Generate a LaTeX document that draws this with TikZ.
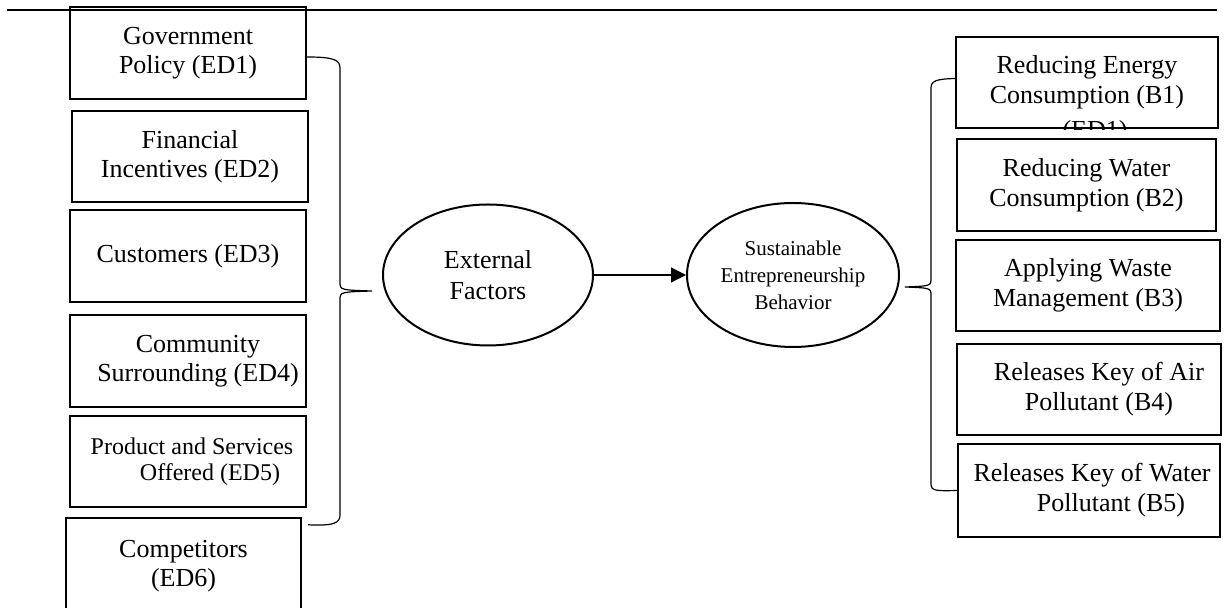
\documentclass[tikz,border=0pt]{standalone}
\usepackage{fontspec}
\setmainfont{Liberation Serif}
\usetikzlibrary{arrows.meta,shapes.geometric,calc}

\begin{document}
\begin{tikzpicture}[x=0.5pt,y=-0.5pt,
  indicator/.style={draw,line width=1.2pt,inner sep=0pt,align=center,
    font=\fontsize{13}{14.5}\selectfont},
  construct/.style={draw,ellipse,line width=1pt,inner sep=0pt,align=center},
  brace/.style={line width=0.6pt},
  link/.style={line width=0.6pt,-{Triangle[length=7.5pt,width=7.5pt]}}]
\useasboundingbox (0,0) rectangle (1225,608);
\draw[line width=1.3pt] (7,10) -- (1217,10);

% external factors
\node[indicator,minimum width=118pt,minimum height=46pt] (ed1) at (188,53) {Government\\Policy (ED1)};
\node[indicator,minimum width=118pt,minimum height=45.5pt] (ed2) at (190,156.5) {Financial\\Incentives (ED2)};
\node[indicator,minimum width=118pt,minimum height=46pt] (ed3) at (188,256) {Customers (ED3)};
\node[indicator,minimum width=118pt,minimum height=46pt] (ed4) at (188,361) {\hspace*{10pt}Community\\\hspace*{10pt}Surrounding (ED4)};
\node[indicator,minimum width=118pt,minimum height=45.5pt,font=\fontsize{12}{13}\selectfont] (ed5) at (188,461.5) {\hspace*{4pt}Product and Services\\\hspace*{22pt}Offered (ED5)};
\node[indicator,minimum width=117.5pt,minimum height=48pt] (ed6) at (183.5,566) {Competitors\\(ED6)};

% behaviour
\node[indicator,minimum width=131pt,minimum height=45.5pt,font=\fontsize{13}{15}\selectfont] (b1) at (1087,82.5) {Reducing Energy\\Consumption (B1)};
\node[indicator,minimum width=129.5pt,minimum height=46pt,font=\fontsize{13}{15}\selectfont] (b2) at (1086.5,185) {Reducing Water\\Consumption (B2)};
\node[indicator,minimum width=132pt,minimum height=45.5pt,font=\fontsize{13}{15}\selectfont] (b3) at (1088,285.5) {Applying Waste\\Management (B3)};
\node[indicator,minimum width=132pt,minimum height=45.5pt,font=\fontsize{13}{15}\selectfont] (b4) at (1089,389.5) {\hspace*{10pt}Releases Key of Air\\\hspace*{10pt}Pollutant (B4)};
\node[indicator,minimum width=131pt,minimum height=46.5pt,font=\fontsize{13}{15}\selectfont] (b5) at (1089,490.5) {\hspace*{3pt}Releases Key of Water\\\hspace*{22pt}Pollutant (B5)};
\begin{scope}
\clip (b1.south west) rectangle (b1.north east);
\node[font=\fontsize{13}{15}\selectfont,anchor=base,inner sep=0pt] (b1x) at (1095,139) {(ED1)};
\end{scope}

% constructs
\node[construct,minimum width=105pt,minimum height=70.5pt,font=\fontsize{13}{15.5}\selectfont] (ef) at (488,275) {External\\Factors};
\node[construct,minimum width=106pt,minimum height=72pt,font=\fontsize{10.5}{13.5}\selectfont] (seb) at (793,275) {Sustainable\\Entrepreneurship\\Behavior};
\draw[link] (ef) -- (seb);

% braces
\coordinate (lt) at (372,291);
\coordinate (rt) at (905,287);
\draw[brace] ([yshift=-2pt]ed1.east) .. controls (334,57) and (340,60) .. (340,68) -- (340,282)
  .. controls (340,290) .. (lt) .. controls (340,292) .. (340,300) -- (340,515)
  .. controls (340,523) and (334,526) .. ([xshift=3pt,yshift=-4pt]ed6.north east);
\draw[brace] ([yshift=2pt]b1.west) .. controls (936,79) and (931,81) .. (931,88) -- (931,278)
  .. controls (931,286) .. (rt) .. controls (931,288) .. (931,296) -- (931,484)
  .. controls (931,491) and (936,491) .. (b5.west);
\end{tikzpicture}
\end{document}
